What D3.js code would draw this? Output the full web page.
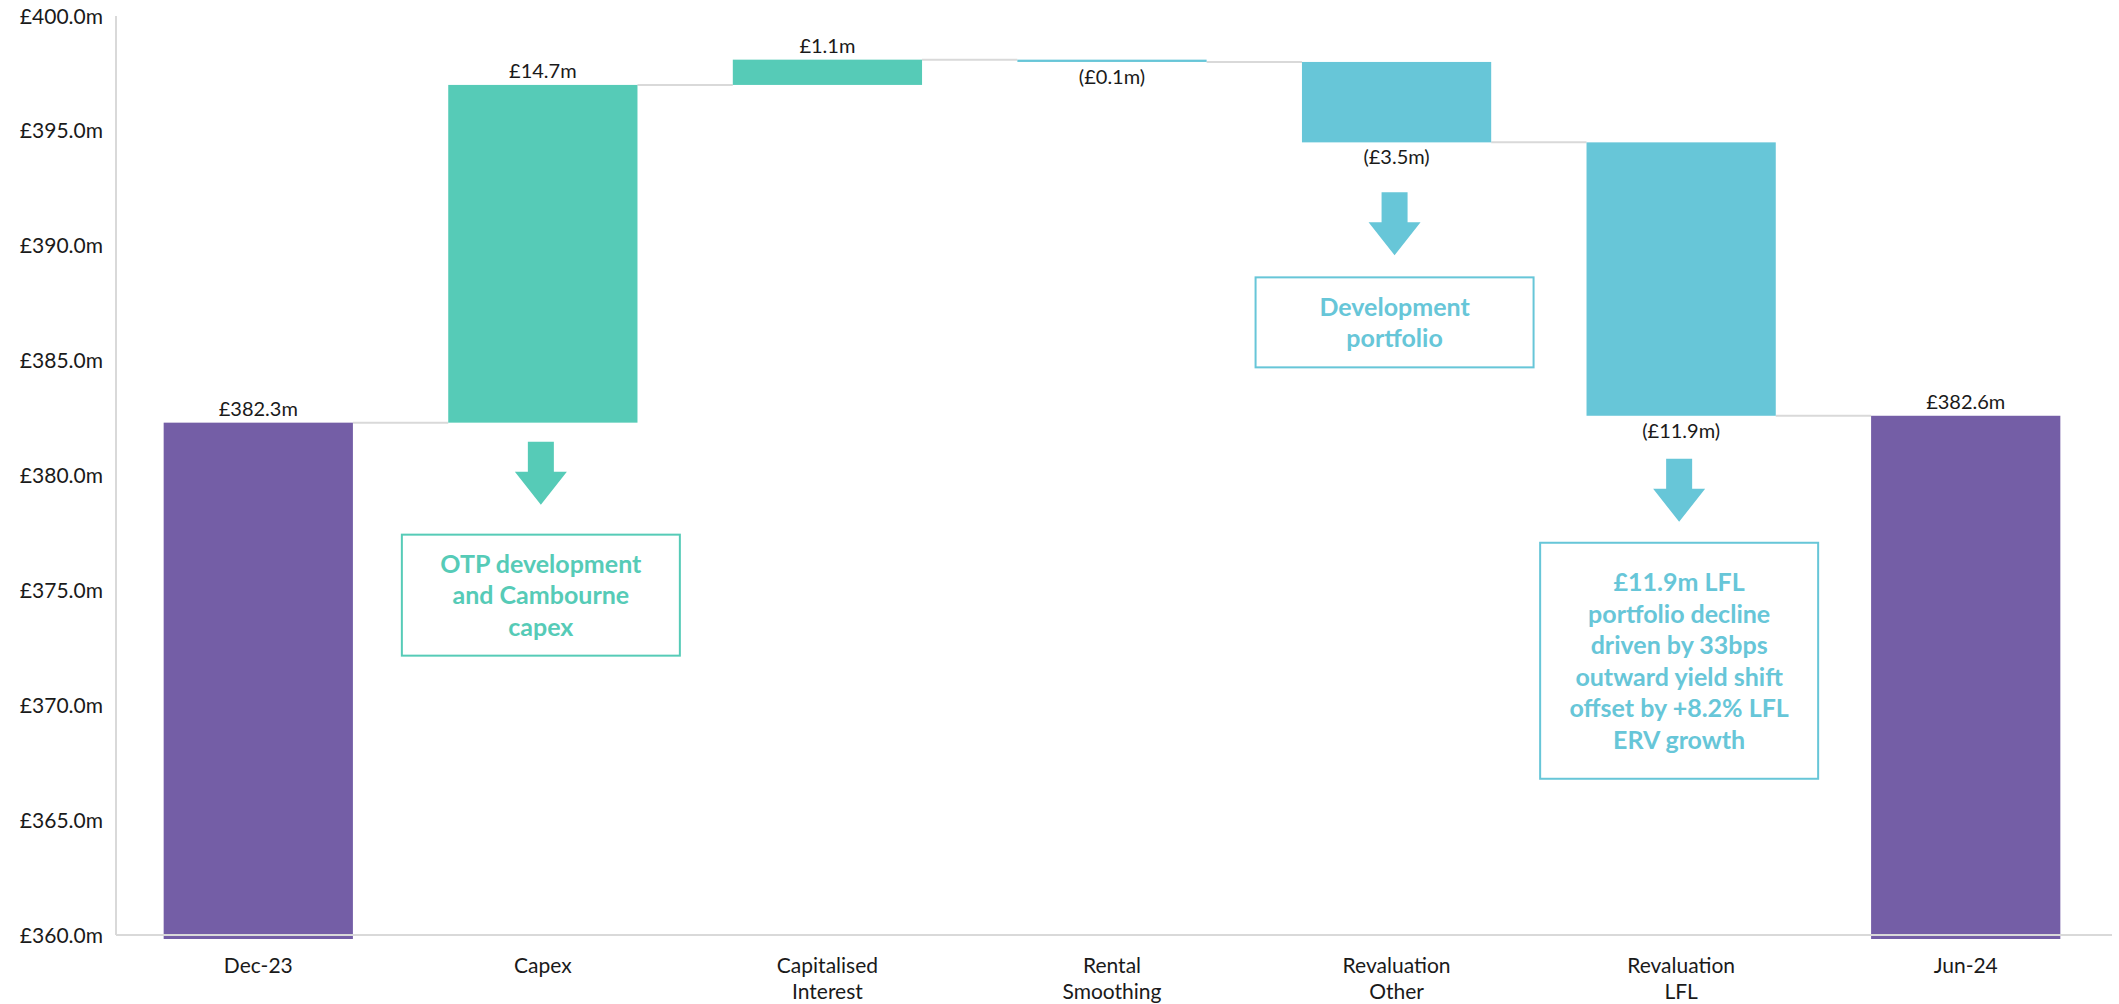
<!DOCTYPE html>
<html>
<head>
<meta charset="utf-8">
<script src="https://cdn.jsdelivr.net/npm/d3@7"></script>
<style>
  html, body { margin: 0; padding: 0; background: #ffffff; }
  svg { display: block; font-family: Lato, "Open Sans", sans-serif; }
</style>
</head>
<body>
<svg id="chart" width="2119" height="1004"></svg>
<script>
// Portfolio valuation bridge, Dec-23 to Jun-24 (£m)
const categories = ["Dec-23", "Capex", "Capitalised Interest", "Rental Smoothing", "Revaluation Other", "Revaluation LFL", "Jun-24"];
const categoryLines = [["Dec-23"], ["Capex"], ["Capitalised", "Interest"], ["Rental", "Smoothing"], ["Revaluation", "Other"], ["Revaluation", "LFL"], ["Jun-24"]];
const barKinds = ["total", "delta", "delta", "delta", "delta", "delta", "total"];
const values = [382.3, 14.7, 1.1, -0.1, -3.5, -11.9, 382.6];
const yTicks = [360, 365, 370, 375, 380, 385, 390, 395, 400];

const notes = [
  { category: "Capex", lines: ["OTP development", "and Cambourne", "capex"] },
  { category: "Revaluation Other", lines: ["Development", "portfolio"] },
  { category: "Revaluation LFL", lines: ["£11.9m LFL", "portfolio decline", "driven by 33bps", "outward yield shift", "offset by +8.2% LFL", "ERV growth"] }
];

const COLORS = { total: "#745ea6", up: "#56cbb7", down: "#67c6d8", grid: "#d9d9d9", text: "#1a1a1a" };

const svg = d3.select("#chart");

const x = d3.scaleBand()
  .domain(categories)
  .range([116, 2108])
  .paddingInner(0.335)
  .paddingOuter(0.1675);

const y = d3.scaleLinear().domain([360, 400]).range([935, 16]);

// running totals for the waterfall
let running = 0;
const bars = categories.map((c, i) => {
  let start, end;
  if (barKinds[i] === "total") {
    start = y.domain()[0];
    end = values[i];
    running = values[i];
  } else {
    start = running;
    end = running + values[i];
    running = end;
  }
  const color = barKinds[i] === "total" ? COLORS.total : (values[i] >= 0 ? COLORS.up : COLORS.down);
  return { category: c, kind: barKinds[i], value: values[i], start, end, color };
});

const fmt = v => "£" + Math.abs(v).toFixed(1) + "m";
const label = b => (b.kind === "delta" && b.value < 0) ? "(" + fmt(b.value) + ")" : fmt(b.value);

// connectors between consecutive bars
const links = bars.slice(0, -1).map((b, i) => ({ x1: x(b.category) + x.bandwidth(), x2: x(categories[i + 1]), level: b.end }));
svg.append("g").selectAll("line").data(links).join("line")
  .attr("x1", d => d.x1).attr("x2", d => d.x2)
  .attr("y1", d => y(d.level)).attr("y2", d => y(d.level))
  .attr("stroke", COLORS.grid).attr("stroke-width", 2);

// bars
svg.append("g").selectAll("rect").data(bars).join("rect")
  .attr("x", d => x(d.category))
  .attr("width", x.bandwidth())
  .attr("y", d => y(Math.max(d.start, d.end)))
  .attr("height", d => Math.abs(y(d.start) - y(d.end)) + (d.kind === "total" ? 4 : 0))
  .attr("fill", d => d.color);

// value labels: above rising/total bars, below falling ones
svg.append("g").selectAll("text").data(bars).join("text")
  .attr("x", d => x(d.category) + x.bandwidth() / 2)
  .attr("y", d => (d.kind === "delta" && d.value < 0) ? y(d.end) + 22 : y(Math.max(d.start, d.end)) - 7)
  .attr("text-anchor", "middle")
  .attr("font-size", 20)
  .attr("fill", COLORS.text)
  .text(label);

// axes
svg.append("line").attr("x1", 116).attr("x2", 116).attr("y1", y(400)).attr("y2", y(360))
  .attr("stroke", COLORS.grid).attr("stroke-width", 2);
svg.append("line").attr("x1", 116).attr("x2", 2112).attr("y1", y(360)).attr("y2", y(360))
  .attr("stroke", COLORS.grid).attr("stroke-width", 2);

svg.append("g").selectAll("text").data(yTicks).join("text")
  .attr("x", 103)
  .attr("y", d => y(d))
  .attr("dy", "0.36em")
  .attr("text-anchor", "end")
  .attr("font-size", 21)
  .attr("fill", COLORS.text)
  .text(d => "£" + d.toFixed(1) + "m");

const catG = svg.append("g").selectAll("text").data(categories).join("text")
  .attr("x", d => x(d) + x.bandwidth() / 2)
  .attr("y", 973)
  .attr("text-anchor", "middle")
  .attr("font-size", 21)
  .attr("fill", COLORS.text);
catG.selectAll("tspan").data((d, i) => categoryLines[i]).join("tspan")
  .attr("x", function () { return this.parentNode.getAttribute("x"); })
  .attr("dy", (d, i) => i === 0 ? 0 : 26)
  .text(d => d);

// callouts: arrow pointing down from the bar into a boxed note
const noteLayout = {
  "Capex": { gap: 19, boxGap: 30, boxH: 121 },
  "Revaluation Other": { gap: 50, boxGap: 22, boxH: 90 },
  "Revaluation LFL": { gap: 43, boxGap: 21, boxH: 236 }
};
const BOX_W = 278, STEM_W = 26, STEM_H = 30, HEAD_W = 52, HEAD_H = 33, LINE_H = 31.5;

notes.forEach(n => {
  const b = bars.find(d => d.category === n.category);
  const L = noteLayout[n.category];
  const cx = x(n.category) + x.bandwidth() / 2 - 2;
  const top = y(Math.min(b.start, b.end)) + L.gap;
  const g = svg.append("g");
  const path = d3.path();
  path.moveTo(cx - STEM_W / 2, top);
  path.lineTo(cx + STEM_W / 2, top);
  path.lineTo(cx + STEM_W / 2, top + STEM_H);
  path.lineTo(cx + HEAD_W / 2, top + STEM_H);
  path.lineTo(cx, top + STEM_H + HEAD_H);
  path.lineTo(cx - HEAD_W / 2, top + STEM_H);
  path.lineTo(cx - STEM_W / 2, top + STEM_H);
  path.closePath();
  g.append("path").attr("d", path.toString()).attr("fill", b.color);

  const boxTop = top + STEM_H + HEAD_H + L.boxGap;
  g.append("rect")
    .attr("x", cx - BOX_W / 2).attr("y", boxTop)
    .attr("width", BOX_W).attr("height", L.boxH)
    .attr("fill", "#ffffff").attr("stroke", b.color).attr("stroke-width", 2);

  const midY = boxTop + L.boxH / 2;
  const firstY = midY - (n.lines.length - 1) * LINE_H / 2;
  g.append("g").selectAll("text").data(n.lines).join("text")
    .attr("x", cx)
    .attr("y", (d, i) => firstY + i * LINE_H)
    .attr("dy", "0.36em")
    .attr("text-anchor", "middle")
    .attr("font-size", 25)
    .attr("font-weight", 700)
    .attr("fill", b.color)
    .text(d => d);
});
</script>
</body>
</html>
